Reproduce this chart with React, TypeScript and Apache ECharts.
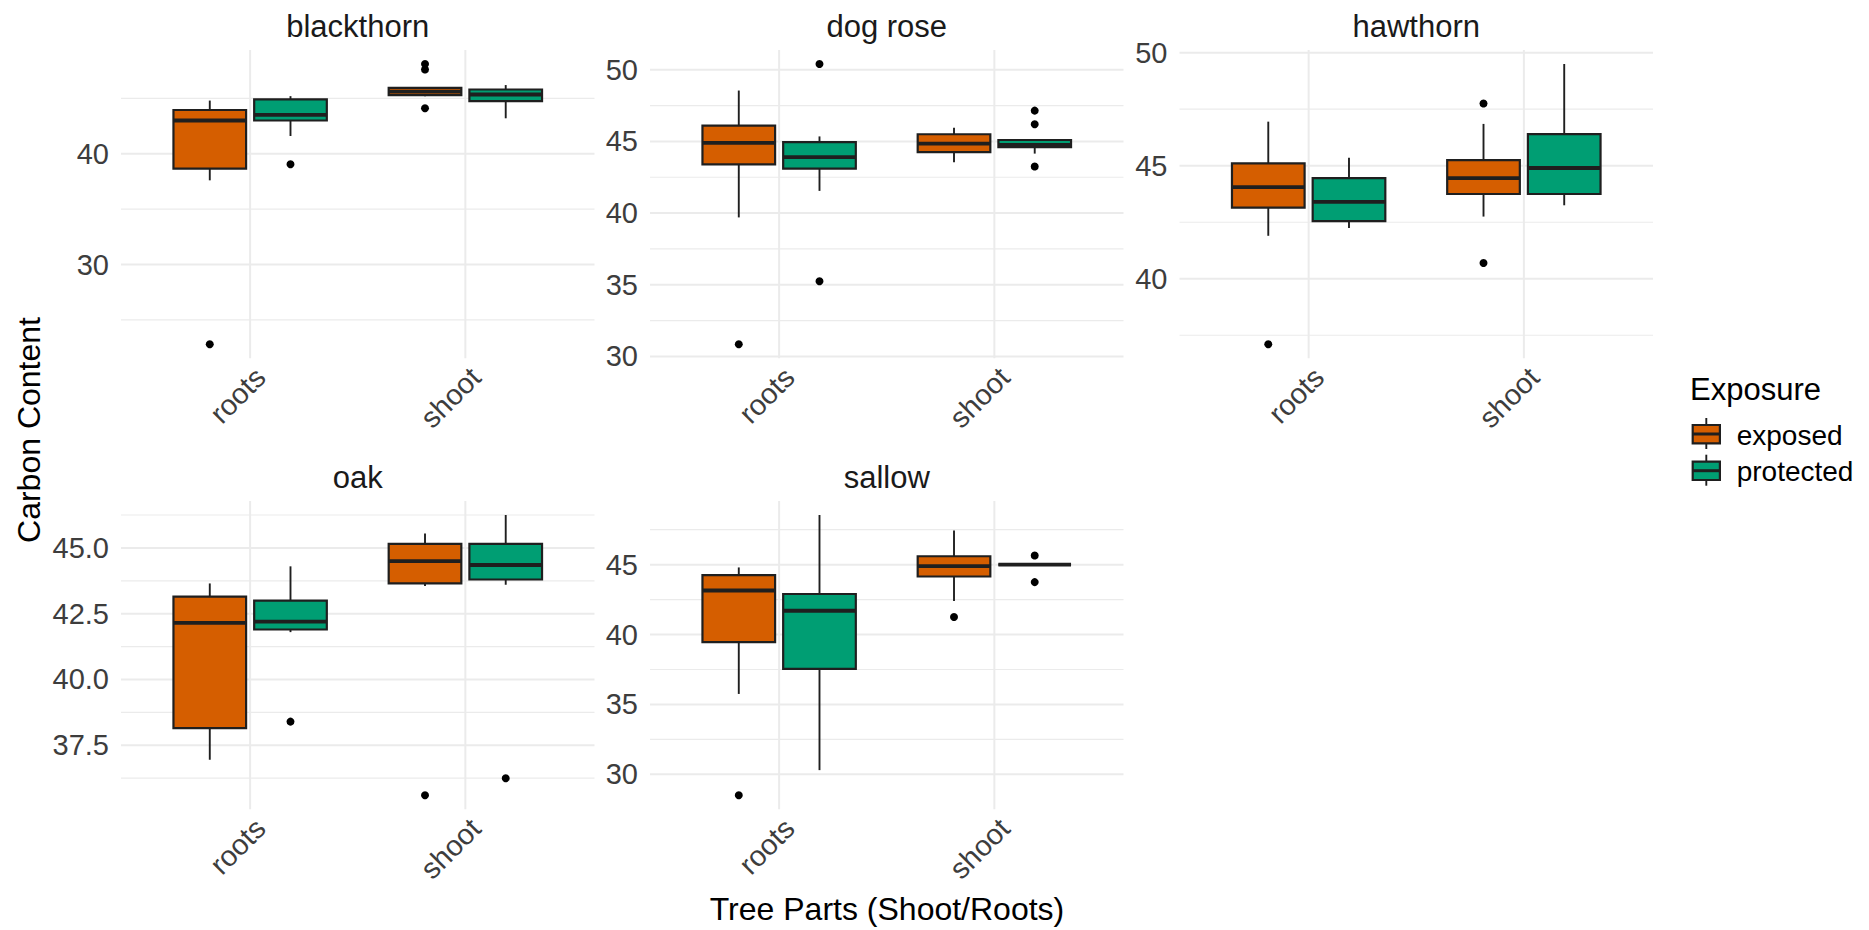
import React, { useEffect, useRef } from 'react';
import * as echarts from 'echarts';

// ---- data -------------------------------------------------------------
const trees = ['blackthorn', 'dog rose', 'hawthorn', 'oak', 'sallow'];
const parts = ['roots', 'shoot'];
const exposures = ['exposed', 'protected'];
const exposureColors = ['#D55E00', '#009E73'];

// Five-number summaries [lower whisker, Q1, median, Q3, upper whisker]
// in the order roots/exposed, roots/protected, shoot/exposed, shoot/protected
const blackthornBoxes = [
  [37.6, 38.65, 43.0, 43.95, 44.8],
  [41.6, 43.0, 43.5, 44.9, 45.2],
  [45.2, 45.3, 45.6, 45.95, 46.0],
  [43.2, 44.75, 45.35, 45.8, 46.2],
];
const dogRoseBoxes = [
  [39.7, 43.4, 44.9, 46.1, 48.55],
  [41.55, 43.1, 43.9, 44.95, 45.35],
  [43.55, 44.25, 44.85, 45.5, 45.95],
  [44.15, 44.6, 44.75, 45.1, 45.1],
];
const hawthornBoxes = [
  [41.9, 43.15, 44.05, 45.1, 46.95],
  [42.25, 42.55, 43.4, 44.45, 45.35],
  [42.75, 43.75, 44.45, 45.25, 46.85],
  [43.25, 43.75, 44.9, 46.4, 49.5],
];
const oakBoxes = [
  [36.95, 38.15, 42.15, 43.15, 43.65],
  [41.8, 41.9, 42.2, 43.0, 44.3],
  [43.55, 43.65, 44.5, 45.15, 45.55],
  [43.6, 43.8, 44.35, 45.15, 46.25],
];
const sallowBoxes = [
  [35.75, 39.45, 43.15, 44.25, 44.8],
  [30.3, 37.55, 41.7, 42.9, 48.55],
  [42.4, 44.15, 44.9, 45.6, 47.45],
  [45.0, 45.0, 45.0, 45.0, 45.0],
];

// Outliers as [box index, value]
const blackthornOutliers = [[0, 22.8], [1, 39.05], [2, 48.1], [2, 47.6], [2, 44.1]];
const dogRoseOutliers = [[0, 30.85], [1, 50.4], [1, 35.25], [3, 47.15], [3, 46.2], [3, 43.25]];
const hawthornOutliers = [[0, 37.1], [2, 47.75], [2, 40.7]];
const oakOutliers = [[1, 38.4], [2, 35.6], [3, 36.25]];
const sallowOutliers = [[0, 28.5], [2, 41.25], [3, 45.65], [3, 43.75]];

// Labelled y breaks and the minor grid lines between them
const blackthornBreaks = [30, 40];
const blackthornMinor = [25, 35, 45];
const dogRoseBreaks = [30, 35, 40, 45, 50];
const dogRoseMinor = [32.5, 37.5, 42.5, 47.5];
const hawthornBreaks = [40, 45, 50];
const hawthornMinor = [37.5, 42.5, 47.5];
const oakBreaks = [37.5, 40, 42.5, 45];
const oakMinor = [36.25, 38.75, 41.25, 43.75, 46.25];
const sallowBreaks = [30, 35, 40, 45];
const sallowMinor = [32.5, 37.5, 42.5, 47.5];

const boxesByTree = [blackthornBoxes, dogRoseBoxes, hawthornBoxes, oakBoxes, sallowBoxes];
const outliersByTree = [blackthornOutliers, dogRoseOutliers, hawthornOutliers, oakOutliers, sallowOutliers];
const breaksByTree = [blackthornBreaks, dogRoseBreaks, hawthornBreaks, oakBreaks, sallowBreaks];
const minorByTree = [blackthornMinor, dogRoseMinor, hawthornMinor, oakMinor, sallowMinor];
const decimalsByTree = [0, 0, 0, 1, 0];

// ---- layout -----------------------------------------------------------
const FONT = "'Liberation Sans', Arial, sans-serif";
const PANELS = [
  { left: 121, top: 50 },
  { left: 650, top: 50 },
  { left: 1179.5, top: 50 },
  { left: 121, top: 501 },
  { left: 650, top: 501 },
];
const PANEL_W = 473.5;
const PANEL_H = 308.3;
const DODGE = 0.1875;
const BOX_HALF = 0.16875;
const EDGE = '#1f1f1f';
const TICK_TEXT = '#3d3d3d';

function boxX(i: number) {
  const part = Math.floor(i / 2);
  const exp = i % 2;
  return part + 1 + (exp === 0 ? -DODGE : DODGE);
}

function limits(t: number) {
  const vals: number[] = [];
  boxesByTree[t].forEach((b) => vals.push(...b));
  outliersByTree[t].forEach((o) => vals.push(o[1]));
  const lo = Math.min(...vals);
  const hi = Math.max(...vals);
  const pad = (hi - lo) * 0.05;
  return [lo - pad, hi + pad];
}

function buildOption() {
  const grid: any[] = [];
  const xAxis: any[] = [];
  const yAxis: any[] = [];
  const series: any[] = [];
  const graphic: any[] = [];

  trees.forEach((tree, t) => {
    const p = PANELS[t];
    const [ymin, ymax] = limits(t);
    grid.push({ left: p.left, top: p.top, width: PANEL_W, height: PANEL_H, containLabel: false });
    xAxis.push({
      type: 'value', gridIndex: t, min: 0.4, max: 2.6,
      axisLine: { show: false }, axisTick: { show: false }, splitLine: { show: false },
      axisLabel: {
        customValues: [1, 2],
        formatter: (v: number) => parts[Math.round(v) - 1] ?? '',
        rotate: 45, margin: 4, verticalAlign: 'top',
        fontSize: 29, color: TICK_TEXT, fontFamily: FONT,
      },
    });
    const dec = decimalsByTree[t];
    yAxis.push({
      type: 'value', gridIndex: t, min: ymin, max: ymax,
      axisLine: { show: false }, axisTick: { show: false }, splitLine: { show: false },
      axisLabel: {
        customValues: breaksByTree[t],
        formatter: (v: number) => v.toFixed(dec),
        margin: 12, fontSize: 29, color: TICK_TEXT, fontFamily: FONT,
      },
    });

    // grid lines: kind 0 = major horizontal, 1 = minor horizontal, 2 = vertical
    const gridData: any[] = [];
    breaksByTree[t].forEach((v) => gridData.push([1, v, 0]));
    minorByTree[t].forEach((v) => gridData.push([1, v, 1]));
    parts.forEach((_, i) => gridData.push([i + 1, ymin, 2]));
    series.push({
      type: 'custom', xAxisIndex: t, yAxisIndex: t, silent: true, z: 1,
      encode: { x: 0, y: 1 },
      data: gridData,
      renderItem: (params: any, api: any) => {
        const cs = params.coordSys;
        const kind = api.value(2);
        if (kind === 2) {
          const px = api.coord([api.value(0), ymin])[0];
          return { type: 'line', shape: { x1: px, y1: cs.y, x2: px, y2: cs.y + cs.height },
            style: { stroke: '#ebebeb', lineWidth: 2 } };
        }
        const py = api.coord([1, api.value(1)])[1];
        return { type: 'line', shape: { x1: cs.x, y1: py, x2: cs.x + cs.width, y2: py },
          style: { stroke: '#ebebeb', lineWidth: kind === 0 ? 2 : 1.2 } };
      },
    });

    // boxes
    const boxData = boxesByTree[t].map((b, i) => [boxX(i), ...b, i % 2]);
    series.push({
      type: 'custom', name: tree, xAxisIndex: t, yAxisIndex: t, silent: true, z: 3,
      encode: { x: 0, y: [1, 5] },
      data: boxData,
      renderItem: (_params: any, api: any) => {
        const x = api.value(0);
        const ys = [1, 2, 3, 4, 5].map((d) => api.coord([x, api.value(d)])[1]);
        const [yLo, yQ1, yMed, yQ3, yHi] = ys;
        const cx = api.coord([x, 0])[0];
        const l = api.coord([x - BOX_HALF, 0])[0];
        const r = api.coord([x + BOX_HALF, 0])[0];
        const fill = exposureColors[api.value(6)];
        return {
          type: 'group',
          children: [
            { type: 'line', shape: { x1: cx, y1: yHi, x2: cx, y2: yQ3 }, style: { stroke: EDGE, lineWidth: 1.9 } },
            { type: 'line', shape: { x1: cx, y1: yQ1, x2: cx, y2: yLo }, style: { stroke: EDGE, lineWidth: 1.9 } },
            { type: 'rect', shape: { x: l, y: yQ3, width: r - l, height: yQ1 - yQ3 },
              style: { fill, stroke: EDGE, lineWidth: 2.2 } },
            { type: 'line', shape: { x1: l, y1: yMed, x2: r, y2: yMed }, style: { stroke: EDGE, lineWidth: 3.8 } },
          ],
        };
      },
    });

    // outliers
    series.push({
      type: 'scatter', xAxisIndex: t, yAxisIndex: t, silent: true, z: 4,
      symbol: 'circle', symbolSize: 8,
      itemStyle: { color: '#000000', opacity: 1 },
      data: outliersByTree[t].map((o) => [boxX(o[0]), o[1]]),
    });

    // facet strip title
    graphic.push({
      type: 'text', x: p.left + PANEL_W / 2, y: p.top - 24,
      style: { text: tree, fontSize: 31, fontFamily: FONT, fill: '#1a1a1a', textAlign: 'center', textVerticalAlign: 'middle' },
    });
  });

  // axis titles
  graphic.push({
    type: 'text', x: 29, y: 430, rotation: Math.PI / 2,
    style: { text: 'Carbon Content', fontSize: 32, fontFamily: FONT, fill: '#000', textAlign: 'center', textVerticalAlign: 'middle' },
  });
  graphic.push({
    type: 'text', x: 887, y: 909,
    style: { text: 'Tree Parts (Shoot/Roots)', fontSize: 32, fontFamily: FONT, fill: '#000', textAlign: 'center', textVerticalAlign: 'middle' },
  });

  // legend
  graphic.push({
    type: 'text', x: 1690, y: 389,
    style: { text: 'Exposure', fontSize: 31, fontFamily: FONT, fill: '#000', textAlign: 'left', textVerticalAlign: 'middle' },
  });
  exposures.forEach((name, i) => {
    const cy = 434 + i * 36.7;
    const cx = 1706.3;
    graphic.push({
      type: 'group',
      children: [
        { type: 'line', shape: { x1: cx, y1: cy - 16, x2: cx, y2: cy + 15 }, style: { stroke: EDGE, lineWidth: 1.9 } },
        { type: 'rect', shape: { x: cx - 13.6, y: cy - 9, width: 27.2, height: 18.3 },
          style: { fill: exposureColors[i], stroke: EDGE, lineWidth: 2.2 } },
        { type: 'line', shape: { x1: cx - 13.6, y1: cy, x2: cx + 13.6, y2: cy }, style: { stroke: EDGE, lineWidth: 3 } },
      ],
    });
    graphic.push({
      type: 'text', x: 1736.7, y: cy + 1,
      style: { text: name, fontSize: 28, fontFamily: FONT, fill: '#000', textAlign: 'left', textVerticalAlign: 'middle' },
    });
  });

  return {
    animation: false,
    backgroundColor: '#ffffff',
    textStyle: { fontFamily: FONT },
    grid, xAxis, yAxis, series, graphic,
  };
}

export default function App() {
  const ref = useRef<HTMLDivElement>(null);
  useEffect(() => {
    if (!ref.current) return;
    const chart = echarts.init(ref.current, undefined, { renderer: 'svg' });
    chart.setOption(buildOption());
    return () => chart.dispose();
  }, []);
  return (
    <div
      ref={ref}
      style={{ position: 'fixed', left: 0, top: 0, width: 1869, height: 930, background: '#fff' }}
    />
  );
}
